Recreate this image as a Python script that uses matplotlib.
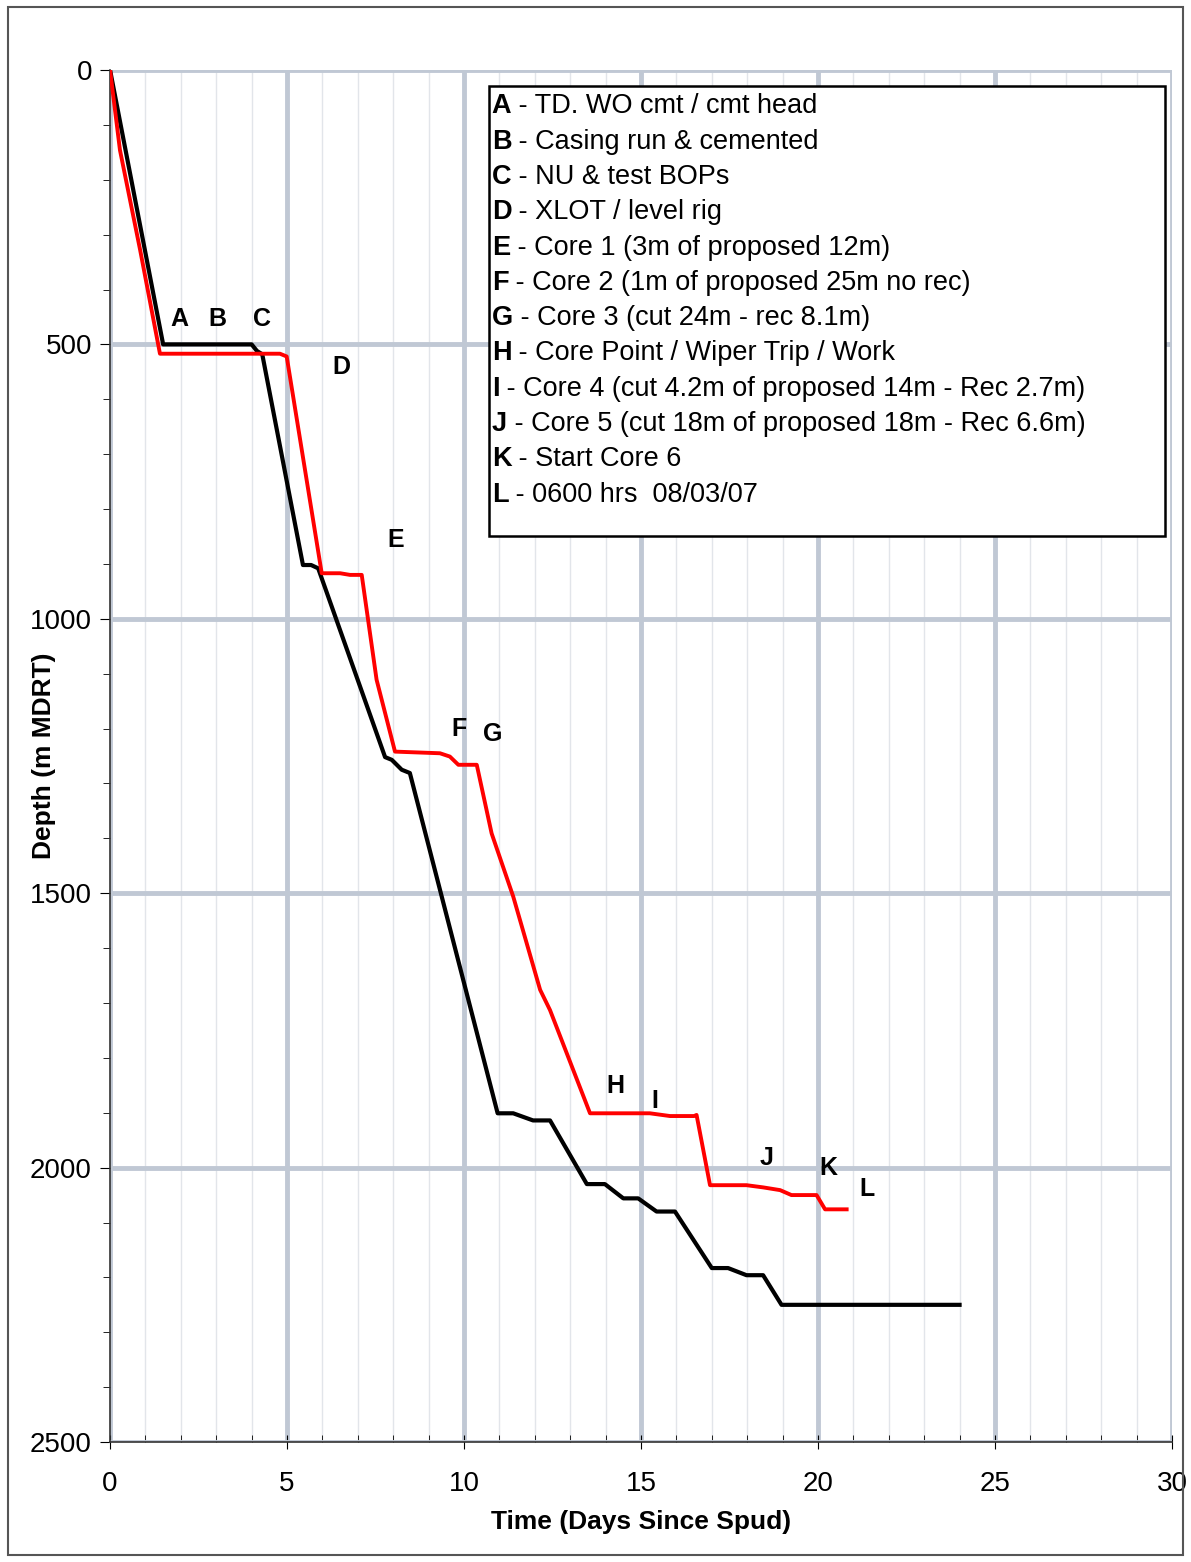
import matplotlib
matplotlib.use('Agg')
from matplotlib import pyplot as plt
from matplotlib.patches import Rectangle

plt.rcParams['font.family'] = ['Liberation Sans', 'DejaVu Sans']

# Actual (black) well - days since spud vs depth
days_black = [0, 1.5, 4.0, 4.15, 4.3, 5.45, 5.68, 5.88, 7.77, 7.96, 8.24, 8.47,
              10.95, 11.39, 11.95, 12.43, 13.47, 13.98, 14.5, 14.92, 15.44, 15.96,
              17.0, 17.46, 17.98, 18.45, 18.97, 24.0]
depth_black = [0, 500, 500, 512, 518, 902, 902, 908, 1252, 1257, 1275, 1281,
               1901, 1901, 1914, 1914, 2030, 2030, 2056, 2056, 2080, 2080,
               2183, 2183, 2196, 2196, 2250, 2250]

# Second (red) well
days_red = [0, 0.28, 0.85, 1.41, 4.8, 4.99, 5.98, 6.5, 6.78, 7.11, 7.53, 8.05,
            9.32, 9.6, 9.84, 10.36, 10.78, 11.39, 12.15, 12.43, 13.56, 15.25, 15.82,
            16.5, 16.57, 16.95, 17.98, 18.45, 18.93, 19.25, 19.96, 20.2, 20.81]
depth_red = [0, 146, 328, 517, 517, 522, 917, 917, 920, 920, 1111, 1242,
             1245, 1251, 1266, 1266, 1391, 1506, 1676, 1713, 1901, 1901, 1906,
             1906, 1904, 2032, 2032, 2036, 2041, 2050, 2050, 2076, 2076]

# event letters
ev_letters = ['A', 'B', 'C', 'D', 'E', 'F', 'G', 'H', 'I', 'J', 'K', 'L']
ev_x = [1.95, 3.02, 4.29, 6.53, 8.08, 9.86, 10.82, 14.29, 15.4, 18.56, 20.28, 21.38]
ev_y = [454, 454, 454, 541, 856, 1201, 1210, 1851, 1879, 1982, 2001, 2039]

ev_text = ['TD. WO cmt / cmt head',
           'Casing run & cemented',
           'NU & test BOPs',
           'XLOT / level rig',
           'Core 1 (3m of proposed 12m)',
           'Core 2 (1m of proposed 25m no rec)',
           'Core 3 (cut 24m - rec 8.1m)',
           'Core Point / Wiper Trip / Work',
           'Core 4 (cut 4.2m of proposed 14m - Rec 2.7m)',
           'Core 5 (cut 18m of proposed 18m - Rec 6.6m)',
           'Start Core 6',
           '0600 hrs  08/03/07']

fig = plt.figure(figsize=(11.91, 15.62), dpi=100)
ax = fig.add_axes([0.0924, 0.0768, 0.8916, 0.8784])

ax.set_xlim(0, 30)
ax.set_ylim(2500, 0)
ax.set_xticks(range(0, 31, 5))
ax.set_xticks(range(0, 31), minor=True)
ax.set_yticks(range(0, 2501, 500))
ax.set_yticks(range(0, 2501, 100), minor=True)

ax.grid(True, which='major', color='#c0c8d4', linewidth=3.5, zorder=0)
ax.grid(True, which='minor', axis='x', color='#e2e5ea', linewidth=1, zorder=0)

for s in ['top', 'right']:
    ax.spines[s].set_visible(False)
for s in ['left', 'bottom']:
    ax.spines[s].set_color('#333333')
    ax.spines[s].set_linewidth(1.2)

ax.tick_params(axis='x', which='major', direction='inout', length=10, labelsize=20, pad=16)
ax.tick_params(axis='x', which='minor', direction='in', length=5)
ax.tick_params(axis='y', which='major', direction='out', length=7, labelsize=20, pad=6)
ax.tick_params(axis='y', which='minor', direction='out', length=5)

ax.plot(days_black, depth_black, color='black', linewidth=3, zorder=3)
ax.plot(days_red, depth_red, color='#ff0000', linewidth=2.8, zorder=4)

for lt, x, y in zip(ev_letters, ev_x, ev_y):
    ax.text(x, y, lt, fontsize=18, fontweight='bold', ha='center', va='center', zorder=5)

ax.set_xlabel('Time (Days Since Spud)', fontsize=19, fontweight='bold', labelpad=9)
ax.set_ylabel('Depth (m MDRT)', fontsize=19, fontweight='bold')
ax.yaxis.set_label_coords(-0.051, 0.5)

# event key box
box = Rectangle((0.357, 0.660), 0.636, 0.328, transform=ax.transAxes,
                facecolor='white', edgecolor='black', linewidth=1.8, zorder=6)
ax.add_patch(box)
for i, (lt, txt) in enumerate(zip(ev_letters, ev_text)):
    yy = 0.9735 - i * 0.02573
    t = ax.text(0.3595, yy, lt, transform=ax.transAxes, fontsize=19.5, fontweight='bold',
                ha='left', va='center', zorder=7)
    ax.annotate(' - ' + txt, xy=(1, 0.5), xycoords=t, fontsize=19.5,
                ha='left', va='center', zorder=7)

fig.patches.append(Rectangle((8 / 1191, 7 / 1562), 1175 / 1191, 1548 / 1562,
                             transform=fig.transFigure, fill=False,
                             edgecolor='#555555', linewidth=1.5))

fig.savefig('out.png', dpi=100)
